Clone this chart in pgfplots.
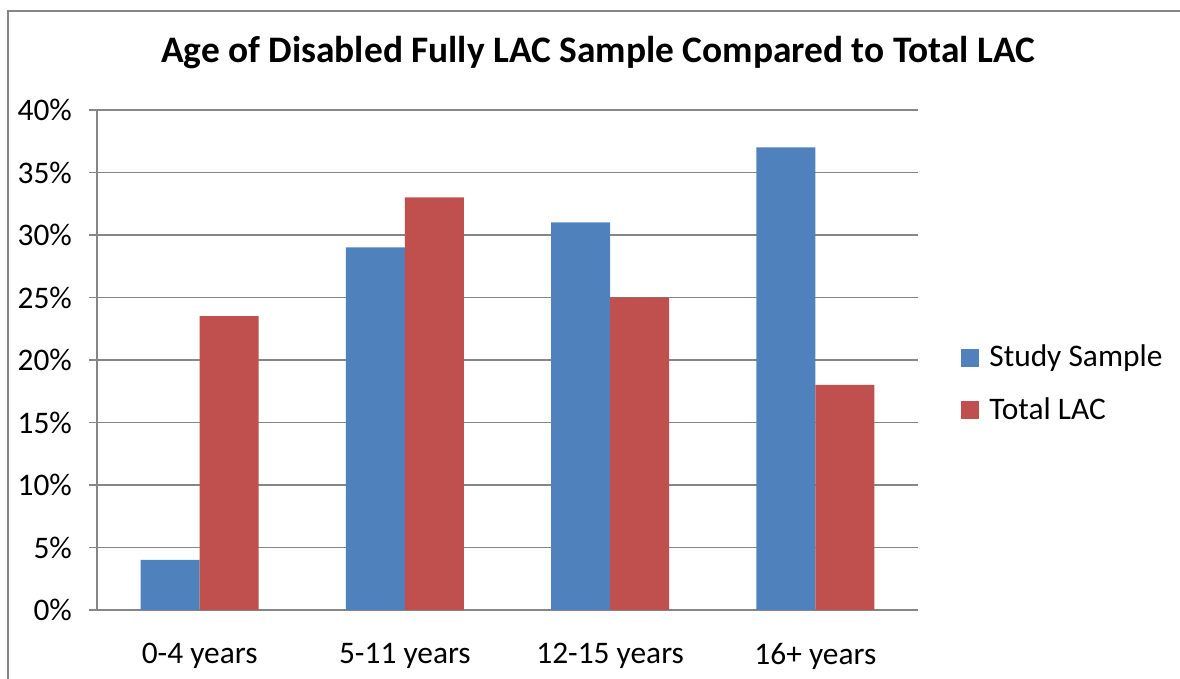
\documentclass[border=0pt]{standalone}
\usepackage{pgfplots}
\pgfplotsset{compat=1.18}
\usepackage{fontspec}
\setmainfont{Carlito}
\definecolor{sblue}{HTML}{4F81BD}
\definecolor{sred}{HTML}{C0504D}
\definecolor{axgray}{HTML}{868686}
\begin{document}
\begin{tikzpicture}
% page is 1180x679 px at 0.5pt per px
\useasboundingbox (0pt,0pt) rectangle (590pt,339.5pt);
\draw[axgray, line width=0.7pt] (4pt,-2pt) -- (4pt,334pt) -- (592pt,334pt);
\node[font=\fontsize{18.7pt}{22pt}\selectfont\bfseries] at (299pt,313pt)
  {Age of Disabled Fully LAC Sample Compared to Total LAC};
\begin{axis}[
  at={(48.5pt,34.5pt)}, anchor=south west,
  scale only axis, width=410.5pt, height=250pt,
  xmin=-0.5, xmax=3.5, ymin=0, ymax=40,
  axis x line=bottom, axis y line=left,
  axis line style={-, axgray, line width=0.7pt},
  xtick={0,1,2,3},
  xticklabels={0-4 years,5-11 years,12-15 years,16+ years},
  x tick style={draw=none},
  extra x ticks={-0.5,0.5,1.5,2.5,3.5},
  extra x tick labels={},
  extra x tick style={tick style={draw=axgray, line width=0.7pt}, major tick length=8pt, tick align=outside, grid=none},
  ytick={0,5,...,40},
  yticklabel={\pgfmathprintnumber{\tick}\%},
  /pgf/number format/assume math mode=true,
  ymajorgrids, grid style={axgray, line width=0.7pt},
  y tick style={axgray, line width=0.7pt},
  tick align=outside, major tick length=4pt,
  ticklabel style={font=\fontsize{15.7pt}{18pt}\selectfont},
  yticklabel style={xshift=-5pt},
  xticklabel style={yshift=-9pt},
  ybar, bar width=29.5pt,
  legend style={at={(1.045,0.452)}, anchor=west, draw=none, fill=none,
    font=\fontsize{15.7pt}{18pt}\selectfont, row sep=10pt,
    legend cell align=left},
  legend image code/.code={\fill[#1] (0pt,-4.5pt) rectangle (9pt,4.5pt); \path (12pt,0pt);},
]
\addplot[fill=sblue, draw=none, bar shift=-14.75pt] coordinates {(0,4) (1,29) (2,31) (3,37)};
\addplot[fill=sred, draw=none, bar shift=14.75pt] coordinates {(0,23.5) (1,33) (2,25) (3,18)};
\legend{Study Sample, Total LAC}
\end{axis}
\end{tikzpicture}
\end{document}
